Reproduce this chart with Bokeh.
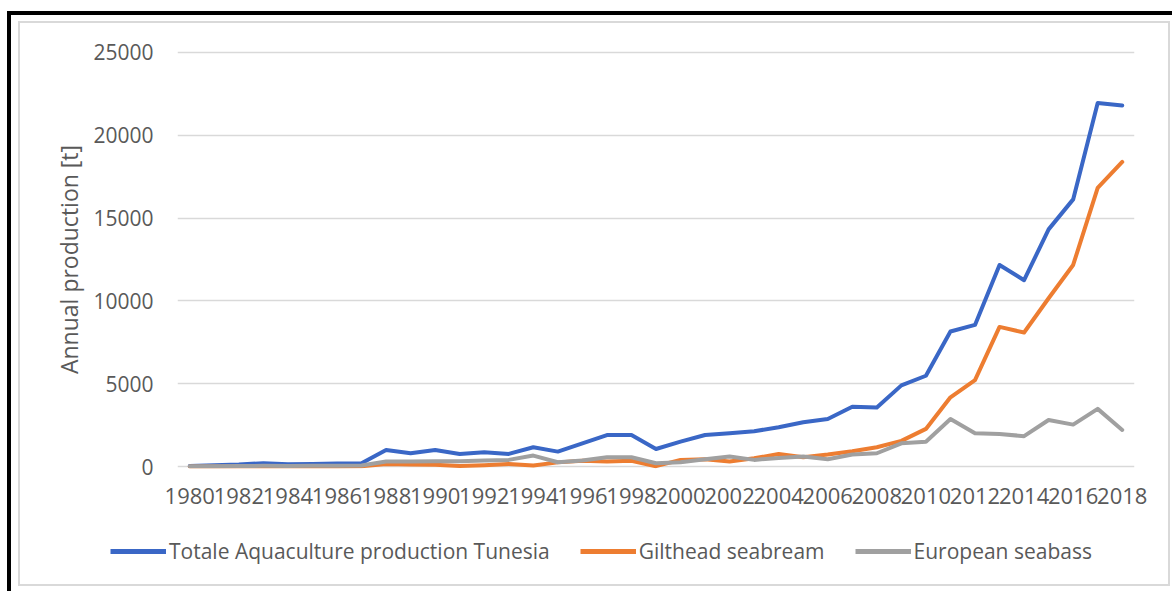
from bokeh.plotting import figure
from bokeh.layouts import column
from bokeh.models import Range1d, FixedTicker, Legend, LegendItem
from bokeh.embed import file_html
from bokeh.resources import INLINE

# Annual aquaculture production in Tunisia, tonnes
years = list(range(1980, 2019))
total = [30, 80, 120, 200, 130, 150, 180, 200, 1000, 800,
         1000, 760, 860, 760, 1160, 900, 1400, 1900, 1900, 1060,
         1500, 1900, 2010, 2130, 2370, 2670, 2870, 3610, 3570, 4900,
         5480, 8150, 8550, 12170, 11250, 14320, 16130, 21950, 21800]
seabream = [0, 0, 0, 0, 0, 0, 0, 20, 150, 120,
            100, 30, 80, 150, 60, 250, 350, 300, 350, 20,
            400, 440, 300, 500, 750, 560, 720, 920, 1160, 1550,
            2270, 4180, 5220, 8430, 8090, 10160, 12170, 16830, 18390]
seabass = [20, 20, 30, 40, 30, 40, 50, 60, 300, 300,
           320, 320, 360, 400, 660, 260, 360, 560, 560, 200,
           260, 440, 600, 400, 520, 600, 440, 720, 800, 1400,
           1500, 2870, 2010, 1970, 1830, 2810, 2530, 3480, 2210]

series_names = ["Totale Aquaculture production Tunesia", "Gilthead seabream", "European seabass"]
series_colors = ["#3A67C6", "#ED7D31", "#A0A0A0"]
series_values = [total, seabream, seabass]
y_ticks = [0, 5000, 10000, 15000, 20000, 25000]
x_ticks = list(range(1980, 2019, 2))

FONT = "Open Sans"
TEXT = "#595959"
LINE_W = 4


def no_frame_align(fig):
    if "frame_align" in fig.properties():
        fig.frame_align = False


# main chart; a little headroom so the 0 and 25000 gridlines are not cut by the frame edge
p = figure(width=1172, height=515, output_backend="svg", toolbar_location=None,
           x_range=Range1d(1979.5, 2018.5), y_range=Range1d(-120, 25120),
           min_border_left=177, min_border_right=38,
           min_border_top=50, min_border_bottom=47)
no_frame_align(p)
p.outline_line_color = None
p.background_fill_color = "white"
p.border_fill_alpha = 0

p.xgrid.visible = False
p.ygrid.grid_line_color = "#D9D9D9"
p.ygrid.grid_line_width = 1.5
p.ygrid.ticker = FixedTicker(ticks=y_ticks)

p.yaxis.ticker = FixedTicker(ticks=y_ticks)
p.xaxis.ticker = FixedTicker(ticks=x_ticks)
for ax in (p.xaxis[0], p.yaxis[0]):
    ax.axis_line_color = None
    ax.major_tick_line_color = None
    ax.minor_tick_line_color = None
    ax.major_label_text_font = FONT
    ax.major_label_text_color = TEXT
p.xaxis.major_label_text_font_size = "22px"
p.xaxis.major_label_standoff = 13
p.yaxis.major_label_text_font_size = "21px"
p.yaxis.major_label_standoff = 18
p.yaxis.axis_label = "Annual production [t]"
p.yaxis.axis_label_text_font = FONT
p.yaxis.axis_label_text_font_size = "23px"
p.yaxis.axis_label_text_font_style = "normal"
p.yaxis.axis_label_text_color = TEXT
p.yaxis.axis_label_standoff = 5

for vals, color in zip(series_values, series_colors):
    p.line(years, vals, line_color=color, line_width=LINE_W, line_join="round", line_cap="round")

# legend strip underneath the chart; its own lines sit outside its unit ranges,
# so only the legend keys are seen
lg = figure(width=1172, height=76, output_backend="svg", toolbar_location=None,
            x_range=Range1d(0, 1), y_range=Range1d(0, 1),
            x_axis_location=None, y_axis_location=None,
            min_border_left=0, min_border_right=0, min_border_top=0, min_border_bottom=0)
no_frame_align(lg)
lg.outline_line_color = None
lg.grid.visible = False
lg.background_fill_alpha = 0
lg.border_fill_alpha = 0
keys = [lg.line(years, vals, line_color=c, line_width=5) for vals, c in zip(series_values, series_colors)]

legend = Legend(items=[LegendItem(label=n, renderers=[r]) for n, r in zip(series_names, keys)],
                orientation="horizontal", location=(110, 26),
                glyph_width=56, glyph_height=20, label_standoff=3, spacing=30,
                padding=0, margin=0, border_line_color=None, background_fill_alpha=0,
                label_text_font=FONT, label_text_font_size="21px", label_text_color=TEXT)
lg.add_layout(legend)

# page edge lines and the light chart-panel outline, painted behind the transparent canvases
bars = [  # (x, y, w, h, colour)
    (7, 11, 1165, 4, "#000000"),
    (7, 11, 4, 580, "#000000"),
    (18, 21, 1152, 2, "#D9D9D9"),
    (18, 584, 1152, 2, "#D9D9D9"),
    (18, 21, 2, 565, "#D9D9D9"),
    (1168, 21, 2, 565, "#D9D9D9"),
]
page = column(p, lg, spacing=0, styles={
    "background-color": "white",
    "background-image": ", ".join(f"linear-gradient({c},{c})" for *_, c in bars),
    "background-position": ", ".join(f"{x}px {y}px" for x, y, *_ in bars),
    "background-size": ", ".join(f"{w}px {h}px" for _, _, w, h, _ in bars),
    "background-repeat": "no-repeat",
})

open("out.html", "w").write(file_html(page, INLINE))
